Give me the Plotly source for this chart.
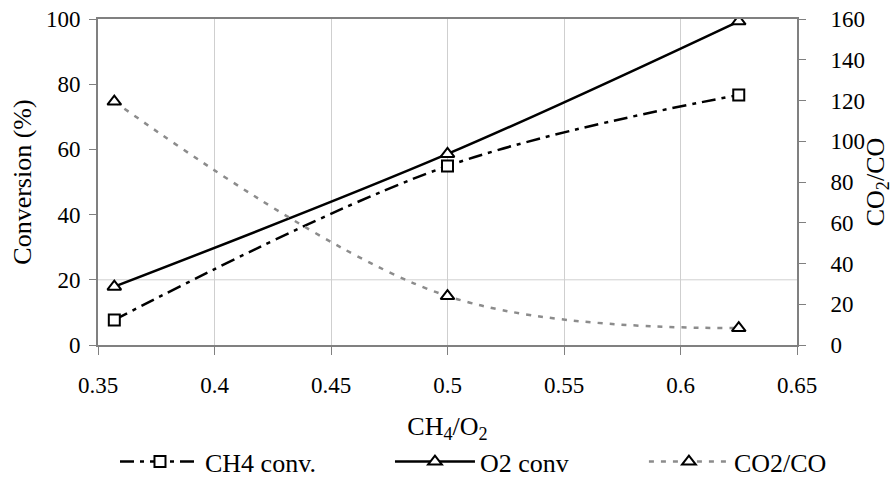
import plotly.graph_objects as go

# ---- data ----
ratio = [0.357, 0.5, 0.625]                 # CH4/O2
ch4_conv = [7.7, 54.9, 76.7]                # %
o2_conv = [17.9, 58.6, 99.3]                # %
co2_co = [119.5, 24.0, 8.3]                 # ratio (right axis)

x_ticks = [0.35, 0.4, 0.45, 0.5, 0.55, 0.6, 0.65]
x_ticktext = ["0.35", "0.4", "0.45", "0.5", "0.55", "0.6", "0.65"]
y1_ticks = [0, 20, 40, 60, 80, 100]
y2_ticks = [0, 20, 40, 60, 80, 100, 120, 140, 160]

FONT = "Liberation Serif"
FS = 23        # tick labels
FS_T = 26      # axis titles
FS_L = 26      # legend
AXIS_COL = "#808080"

fig = go.Figure()

fig.add_trace(go.Scatter(
    x=ratio, y=ch4_conv, name="CH4 conv.", mode="lines+markers",
    line=dict(color="black", width=2.5, dash="14px,6px,4px,6px", shape="spline"),
    marker=dict(symbol="square", size=11, color="white", line=dict(color="black", width=2)),
    legend="legend",
))
fig.add_trace(go.Scatter(
    x=ratio, y=o2_conv, name="O2 conv", mode="lines+markers",
    line=dict(color="black", width=2.5, shape="spline"),
    marker=dict(symbol="triangle-up", size=12, color="white", line=dict(color="black", width=2)),
    legend="legend2",
))
fig.add_trace(go.Scatter(
    x=ratio, y=co2_co, name="CO2/CO", mode="lines+markers", yaxis="y2",
    line=dict(color="#8c8c8c", width=2.5, dash="5px,7px", shape="spline"),
    marker=dict(symbol="triangle-up", size=12, color="white", line=dict(color="black", width=2)),
    legend="legend3",
))

leg_common = dict(orientation="h", yanchor="middle", y=-0.358, xanchor="left",
                  font=dict(family=FONT, size=FS_L, color="black"),
                  itemwidth=80, bgcolor="rgba(0,0,0,0)", borderwidth=0)

fig.update_layout(
    width=893, height=481,
    margin=dict(l=98, r=96, t=19, b=136, autoexpand=False),
    paper_bgcolor="white", plot_bgcolor="white",
    font=dict(family=FONT, size=FS, color="black"),
    showlegend=True,
    legend=dict(x=0.0243, **leg_common),
    legend2=dict(x=0.4177, **leg_common),
    legend3=dict(x=0.781, **leg_common),
    xaxis=dict(
        range=[0.35, 0.65], tickvals=x_ticks, ticktext=x_ticktext,
        showline=True, linecolor=AXIS_COL, linewidth=2, mirror=True,
        ticks="outside", ticklen=8, tickcolor=AXIS_COL, tickwidth=1,
        showgrid=True, gridcolor="#cfcfcf", gridwidth=1,
        zeroline=False, ticklabelstandoff=10,
        tickfont=dict(family=FONT, size=FS),
        title=dict(text="CH<sub>4</sub>/O<sub>2</sub>", standoff=20,
                   font=dict(family=FONT, size=FS_T)),
    ),
    yaxis=dict(
        range=[0, 100], tickvals=y1_ticks,
        showline=True, linecolor=AXIS_COL, linewidth=2,
        ticks="outside", ticklen=7, tickcolor=AXIS_COL, tickwidth=1,
        showgrid=False, zeroline=False, ticklabelstandoff=4,
        tickfont=dict(family=FONT, size=FS),
        title=dict(text="Conversion (%)", standoff=7, font=dict(family=FONT, size=FS_T)),
    ),
    yaxis2=dict(
        range=[0, 160], tickvals=y2_ticks, overlaying="y", side="right",
        showline=True, linecolor=AXIS_COL, linewidth=2,
        ticks="outside", ticklen=7, tickcolor=AXIS_COL, tickwidth=1,
        showgrid=False, zeroline=False, ticklabelstandoff=20,
        tickfont=dict(family=FONT, size=FS),
        title=dict(text="CO<sub>2</sub>/CO", standoff=16, font=dict(family=FONT, size=FS_T)),
    ),
    shapes=[dict(type="line", xref="paper", x0=0, x1=1, yref="y", y0=20, y1=20,
                 line=dict(color="#d0d0d0", width=1), layer="below")],
)

fig.write_html("out.html", config={"displayModeBar": False},
               post_script="document.body.style.margin='0';document.body.style.padding='0';")
